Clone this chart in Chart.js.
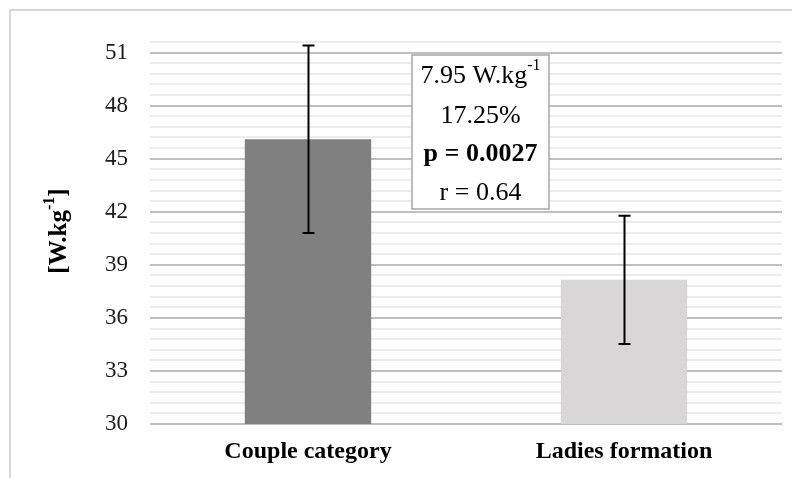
<!DOCTYPE html>
<html>
<head>
<meta charset="utf-8">
<script src="https://cdn.jsdelivr.net/npm/chart.js@4/dist/chart.umd.min.js"></script>
<style>
  body { margin: 0; background: #fff; }
  #wrap { width: 792px; height: 478px; position: relative; }
</style>
</head>
<body>
<div id="wrap"><canvas id="chart"></canvas></div>
<script>
const categories = ["Couple category", "Ladies formation"];
const means = [46.1, 38.15];
const sds = [5.3, 3.63];
const barColors = ["#808080", "#d8d6d7"];
const yMin = 30;
const yMax = 51.6;
const majorStep = 3;
const minorStep = 0.6;
const statLines = ["7.95 W.kg", "17.25%", "p = 0.0027", "r = 0.64"];

const serif = "'Liberation Serif', 'Times New Roman', serif";

function isMajor(v) {
  const k = Math.round(v * 10) / 10;
  return Math.abs(((k - yMin) / majorStep) - Math.round((k - yMin) / majorStep)) < 1e-6;
}

// frame, error bars, y title and stats box
const extras = {
  id: "extras",
  beforeDraw(chart) {
    const c = chart.ctx;
    c.save();
    c.strokeStyle = "#d9d9d9";
    c.lineWidth = 2;
    c.strokeRect(10, 10, 800, 490);
    c.restore();
  },
  afterDatasetsDraw(chart) {
    const c = chart.ctx;
    const y = chart.scales.y;
    const meta = chart.getDatasetMeta(0);
    c.save();
    c.strokeStyle = "#000";
    c.lineWidth = 2;
    meta.data.forEach((bar, i) => {
      const top = y.getPixelForValue(means[i] + sds[i]);
      const bot = y.getPixelForValue(means[i] - sds[i]);
      const x = Math.round(bar.x) + 0.5;
      c.beginPath();
      c.moveTo(x, top); c.lineTo(x, bot);
      c.moveTo(x - 6, top); c.lineTo(x + 6, top);
      c.moveTo(x - 6, bot); c.lineTo(x + 6, bot);
      c.stroke();
    });
    c.restore();
  },
  afterDraw(chart) {
    const c = chart.ctx;
    const area = chart.chartArea;
    c.save();

    // y axis title, rotated
    c.translate(60, (area.top + area.bottom) / 2 - 2);
    c.rotate(-Math.PI / 2);
    c.fillStyle = "#000";
    c.textBaseline = "middle";
    const big = "bold 25px " + serif;
    const small = "bold 16px " + serif;
    c.font = big;
    const w1 = c.measureText("[W.kg").width;
    const w3 = c.measureText("]").width;
    c.font = small;
    const w2 = c.measureText("-1").width;
    let x0 = -(w1 + w2 + w3) / 2;
    c.font = big;
    c.textAlign = "left";
    c.fillText("[W.kg", x0, 0);
    c.font = small;
    c.fillText("-1", x0 + w1, -10);
    c.font = big;
    c.fillText("]", x0 + w1 + w2, 0);
    c.restore();

    // stats box
    c.save();
    const bx = 412, by = 55, bw = 137, bh = 154;
    c.fillStyle = "#fff";
    c.fillRect(bx, by, bw, bh);
    c.strokeStyle = "#a6a6a6";
    c.lineWidth = 1.5;
    c.strokeRect(bx, by, bw, bh);
    c.fillStyle = "#000";
    c.textBaseline = "middle";
    c.textAlign = "left";
    const cx = bx + bw / 2;
    const ys = [by + 21, by + 61, by + 99, by + 138];
    statLines.forEach((t, i) => {
      c.font = (i === 2 ? "bold " : "") + "26px " + serif;
      let w = c.measureText(t).width;
      if (i === 0) {
        c.font = "16px " + serif;
        const ws = c.measureText("-1").width;
        c.font = "26px " + serif;
        const sx = cx - (w + ws) / 2;
        c.fillText(t, sx, ys[i]);
        c.font = "16px " + serif;
        c.fillText("-1", sx + w, ys[i] - 10);
      } else {
        c.fillText(t, cx - w / 2, ys[i]);
      }
    });
    c.restore();
  }
};

new Chart(document.getElementById("chart"), {
  type: "bar",
  data: {
    labels: categories,
    datasets: [{
      data: means,
      backgroundColor: barColors,
      borderWidth: 0,
      categoryPercentage: 1,
      barPercentage: 0.4
    }]
  },
  options: {
    responsive: true,
    maintainAspectRatio: false,
    animation: false,
    layout: { padding: { left: 0, right: 10, top: 42, bottom: 0 } },
    plugins: {
      legend: { display: false },
      tooltip: { enabled: false }
    },
    scales: {
      x: {
        grid: { display: false },
        border: { display: false },
        ticks: {
          color: "#000",
          padding: 5,
          font: { family: serif, size: 24, weight: "bold" }
        },
        afterFit(scale) { scale.height = 54; }
      },
      y: {
        min: yMin,
        max: yMax,
        border: { display: false },
        grid: {
          drawTicks: false,
          color: (ctx) => isMajor(ctx.tick.value) ? "#bfbfbf" : "#ececec",
          lineWidth: 2
        },
        ticks: {
          stepSize: minorStep,
          autoSkip: false,
          padding: 22,
          color: "#1a1a1a",
          font: { family: serif, size: 23 },
          callback: (v) => isMajor(v) && v <= 51.01 ? String(Math.round(v)) : ""
        },
        afterFit(scale) { scale.width = 150; }
      }
    }
  },
  plugins: [extras]
});
</script>
</body>
</html>
